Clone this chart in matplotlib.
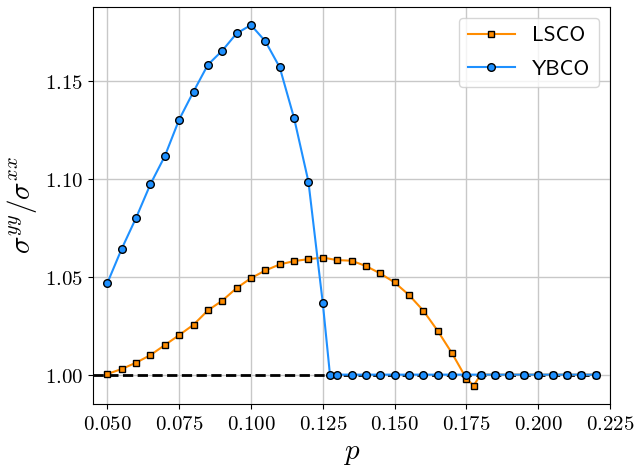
import numpy as np
import matplotlib
matplotlib.use("Agg")
import matplotlib.pyplot as plt
from matplotlib.ticker import FuncFormatter

plt.rcParams["mathtext.fontset"] = "cm"

# LSCO data
p_lsco = [0.050, 0.055, 0.060, 0.065, 0.070, 0.075, 0.080, 0.085, 0.090,
          0.095, 0.100, 0.105, 0.110, 0.115, 0.120, 0.125, 0.130, 0.135,
          0.140, 0.145, 0.150, 0.155, 0.160, 0.165, 0.170, 0.175, 0.1775,
          0.180, 0.185, 0.190, 0.195, 0.200, 0.205, 0.210, 0.215, 0.220]
r_lsco = [1.0003, 1.0029, 1.0061, 1.0100, 1.0151, 1.0202, 1.0255, 1.0328,
          1.0378, 1.0442, 1.0493, 1.0532, 1.0563, 1.0580, 1.0590, 1.0598,
          1.0585, 1.0582, 1.0555, 1.0517, 1.0471, 1.0407, 1.0327, 1.0224,
          1.0109, 0.9980, 0.9944, 1.0, 1.0, 1.0, 1.0, 1.0, 1.0, 1.0, 1.0, 1.0]

# YBCO data
p_ybco = [0.050, 0.055, 0.060, 0.065, 0.070, 0.075, 0.080, 0.085, 0.090,
          0.095, 0.100, 0.105, 0.110, 0.115, 0.120, 0.125, 0.1275, 0.130,
          0.135, 0.140, 0.145, 0.150, 0.155, 0.160, 0.165, 0.170, 0.175,
          0.180, 0.185, 0.190, 0.195, 0.200, 0.205, 0.210, 0.215, 0.220]
r_ybco = [1.0468, 1.0643, 1.0801, 1.0973, 1.1116, 1.1303, 1.1446, 1.1583,
          1.1655, 1.1743, 1.1786, 1.1703, 1.1570, 1.1311, 1.0986, 1.0366,
          1.0, 1.0, 1.0, 1.0, 1.0, 1.0, 1.0, 1.0, 1.0, 1.0, 1.0, 1.0, 1.0,
          1.0, 1.0, 1.0, 1.0, 1.0, 1.0, 1.0]

x_ticks = [0.050, 0.075, 0.100, 0.125, 0.150, 0.175, 0.200, 0.225]
y_ticks = [1.00, 1.05, 1.10, 1.15]

fig = plt.figure(figsize=(6.34, 4.66), dpi=100)
ax = fig.add_axes([93 / 634, 1 - 404 / 466, 517 / 634, 397 / 466])

ax.plot([0.045, 0.22], [1.0, 1.0], color="black", linestyle="--",
        linewidth=2, zorder=1.5)
ax.plot(p_lsco, r_lsco, color="darkorange", marker="s", markersize=4.5,
        markeredgecolor="black", markeredgewidth=1, linewidth=1.5,
        label="LSCO")
ax.plot(p_ybco, r_ybco, color="dodgerblue", marker="o", markersize=5.5,
        markeredgecolor="black", markeredgewidth=1, linewidth=1.5,
        label="YBCO")

ax.set_xlim(0.045, 0.225)
ax.set_ylim(0.985, 1.1878)
ax.set_xticks(x_ticks)
ax.set_yticks(y_ticks)
ax.xaxis.set_major_formatter(FuncFormatter(lambda v, pos: f"${v:.3f}$"))
ax.yaxis.set_major_formatter(FuncFormatter(lambda v, pos: f"${v:.2f}$"))
ax.tick_params(labelsize=15)
ax.grid(True, color="#c8c8c8", linewidth=1)
ax.set_axisbelow(True)

ax.set_xlabel("$p$", fontsize=21)
ax.set_ylabel(r"$\sigma^{yy}/\sigma^{xx}$", fontsize=21)
ax.legend(loc="upper right", prop={"family": "cmss10", "size": 15.5},
          handlelength=2.2, labelspacing=0.65, borderaxespad=0.5)

fig.savefig("out.png", dpi=100)
